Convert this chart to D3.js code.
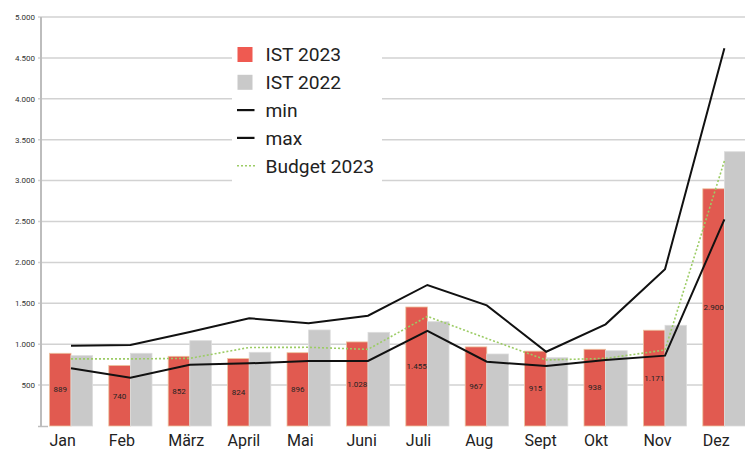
<!DOCTYPE html>
<html>
<head>
<meta charset="utf-8">
<script src="https://cdn.jsdelivr.net/npm/d3@7"></script>
<style>
  html, body { margin: 0; padding: 0; background: #fff; }
  svg { display: block; font-family: Roboto, "Noto Sans", sans-serif; }
</style>
</head>
<body>
<svg id="chart" width="745" height="450"></svg>
<script>
const months = ["Jan","Feb","März","April","Mai","Juni","Juli","Aug","Sept","Okt","Nov","Dez"];
const ist2023 = [889, 740, 852, 824, 896, 1028, 1455, 967, 915, 938, 1171, 2900];
const ist2022 = [860, 889, 1043, 901, 1174, 1145, 1275, 880, 835, 920, 1231, 3353];
const minVals = [705, 590, 750, 766, 795, 795, 1163, 786, 733, 807, 860, 2527];
const maxVals = [982, 990, 1150, 1317, 1255, 1348, 1724, 1475, 908, 1243, 1916, 4617];
const budget2023 = [820, 820, 827, 960, 962, 937, 1340, 1070, 807, 827, 929, 3240];
const yTicks = [500, 1000, 1500, 2000, 2500, 3000, 3500, 4000, 4500, 5000];
const legendItems = [
  {label: "IST 2023", type: "rect", color: "#ef5a51"},
  {label: "IST 2022", type: "rect", color: "#c9c9c9"},
  {label: "min", type: "line", color: "#111"},
  {label: "max", type: "line", color: "#111"},
  {label: "Budget 2023", type: "dot", color: "#9ccc65"}
];

const de = d3.formatLocale({decimal: ",", thousands: ".", grouping: [3], currency: ["", " €"]});
const fmt = de.format(",d");

const svg = d3.select("#chart");
const step = 59.4, x0 = 41.3;
const x = d3.scaleBand().domain(months).range([x0, x0 + step * months.length]).padding(0);
const y = d3.scaleLinear().domain([0, 5000]).range([426, 17]);
const barW = 21.6;
const cx = m => x(m) + x.bandwidth() / 2;

// gridlines
svg.append("g").selectAll("line").data(yTicks).join("line")
  .attr("x1", 38).attr("x2", 745)
  .attr("y1", d => y(d)).attr("y2", d => y(d))
  .attr("stroke", "#d2d2d2").attr("stroke-width", 1.5);

// y labels
svg.append("g").selectAll("text").data(yTicks).join("text")
  .attr("x", 35).attr("y", d => y(d)).attr("dy", "0.35em")
  .attr("text-anchor", "end").attr("font-size", 8).attr("fill", "#333")
  .text(d => fmt(d));

// y axis line
svg.append("line").attr("x1", 41).attr("x2", 41).attr("y1", y(5000)).attr("y2", y(0) + 1)
  .attr("stroke", "#bdbdbd").attr("stroke-width", 2);
svg.append("line").attr("x1", 38).attr("x2", 48).attr("y1", y(0) + 0.5).attr("y2", y(0) + 0.5)
  .attr("stroke", "#bdbdbd").attr("stroke-width", 1.5);

// bars
svg.append("g").selectAll("rect").data(months).join("rect")
  .attr("x", (m) => cx(m) - barW).attr("width", barW)
  .attr("y", (m, i) => y(ist2023[i])).attr("height", (m, i) => y(0) - y(ist2023[i]))
  .attr("fill", "#e15a50").attr("stroke", "#ecc4a0").attr("stroke-width", 0.8);
svg.append("g").selectAll("rect").data(months).join("rect")
  .attr("x", (m) => cx(m)).attr("width", barW)
  .attr("y", (m, i) => y(ist2022[i])).attr("height", (m, i) => y(0) - y(ist2022[i]))
  .attr("fill", "#c9c9c9").attr("stroke", "#dcdcdc").attr("stroke-width", 0.8);

// bar labels
svg.append("g").selectAll("text").data(months).join("text")
  .attr("x", m => cx(m) - barW / 2)
  .attr("y", (m, i) => (y(ist2023[i]) + y(0)) / 2).attr("dy", "0.35em")
  .attr("text-anchor", "middle").attr("font-size", 8).attr("fill", "#222")
  .text((m, i) => fmt(ist2023[i]));

// lines
const line = d3.line().x((d, i) => cx(months[i])).y(d => y(d));
svg.append("path").datum(budget2023).attr("d", line).attr("fill", "none")
  .attr("stroke", "#9ccc65").attr("stroke-width", 1.6).attr("stroke-dasharray", "2,2");
svg.append("path").datum(minVals).attr("d", line).attr("fill", "none")
  .attr("stroke", "#111").attr("stroke-width", 2);
svg.append("path").datum(maxVals).attr("d", line).attr("fill", "none")
  .attr("stroke", "#111").attr("stroke-width", 2);

// x labels
svg.append("g").selectAll("text").data(months).join("text")
  .attr("x", m => cx(m) - barW).attr("y", 445.5)
  .attr("font-size", 16).attr("fill", "#222")
  .text(m => m);

// legend
const lg = svg.append("g");
lg.append("rect").attr("x", 232).attr("y", 38).attr("width", 150).attr("height", 148).attr("fill", "#fff");
const rowY = i => 54.5 + i * 27.8;
legendItems.forEach((it, i) => {
  const cy = rowY(i);
  if (it.type === "rect") {
    lg.append("rect").attr("x", 237.5).attr("y", cy - 7.5).attr("width", 15).attr("height", 15).attr("fill", it.color);
  } else if (it.type === "line") {
    lg.append("line").attr("x1", 237).attr("x2", 254.5).attr("y1", cy).attr("y2", cy)
      .attr("stroke", it.color).attr("stroke-width", 2.2);
  } else {
    lg.append("line").attr("x1", 237).attr("x2", 257).attr("y1", cy).attr("y2", cy)
      .attr("stroke", it.color).attr("stroke-width", 1.6).attr("stroke-dasharray", "2,2");
  }
  lg.append("text").attr("x", 265.5).attr("y", cy).attr("dy", "0.36em")
    .attr("font-size", 19.2).attr("fill", "#222").text(it.label);
});
</script>
</body>
</html>
